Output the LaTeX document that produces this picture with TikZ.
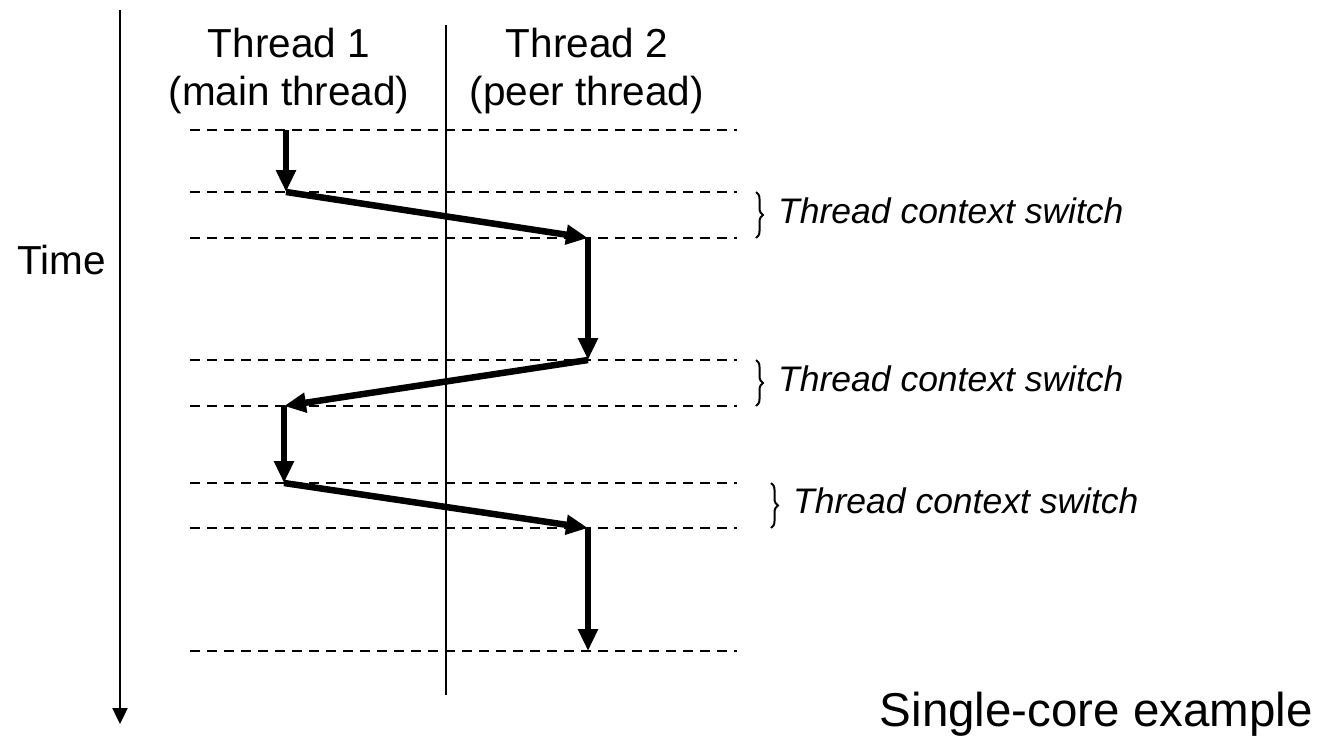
\documentclass[tikz,border=0pt]{standalone}
\usepackage{fontspec}
\setmainfont{Liberation Sans}
\usetikzlibrary{arrows.meta,decorations.pathreplacing}
\begin{document}
\begin{tikzpicture}[x=1pt,y=-1pt,
  lbl/.style={inner sep=0pt,font=\fontsize{40.5}{48}\selectfont},
  cs/.style={inner sep=0pt,anchor=west,font=\fontsize{35.5}{41}\selectfont\itshape},
  guide/.style={line width=2.4pt,dash pattern=on 10pt off 7pt},
  flow/.style={line width=6.5pt,-{Triangle[length=22pt,width=19pt]}},
  brc/.style={line width=2pt,decorate,decoration={brace,amplitude=7pt}}]
\useasboundingbox (0,0) rectangle (1322,737);

% time axis and thread divider
\coordinate (t0) at (120,10);
\coordinate (t1) at (120,724);
\draw[line width=2.4pt,-{Triangle[length=16pt,width=15pt]}] (t0) -- (t1);
\node[lbl] (time) at (62,260) {Time};
\coordinate (d0) at (446,25);
\coordinate (d1) at (446,695);
\draw[line width=2.4pt] (d0) -- (d1);

% column headings
\node[lbl,align=center] (h1) at (289,71) {Thread 1\\(main thread)};
\node[lbl,align=center] (h2) at (587,71) {Thread 2\\(peer thread)};

% dashed time marks
\foreach \y [count=\i] in {130,192,238,360,406,483,528,651}{
  \coordinate (l\i) at (190,\y);
  \coordinate (r\i) at (737,\y);
  \draw[guide] (l\i) -- (r\i);
}

% execution path
\coordinate (a1) at (286,130);
\coordinate (a2) at (286,192);
\coordinate (b2) at (588,238);
\coordinate (b3) at (588,360);
\coordinate (a3) at (284,406);
\coordinate (a4) at (284,483);
\coordinate (b4) at (588,528);
\coordinate (b5) at (588,651);
\draw[flow] (a1) -- (a2);
\draw[flow] (a2) -- (b2);
\draw[flow] (b2) -- (b3);
\draw[flow] (b3) -- (a3);
\draw[flow] (a3) -- (a4);
\draw[flow] (a4) -- (b4);
\draw[flow] (b4) -- (b5);

% context switch annotations
\coordinate (s1a) at (756,192);
\coordinate (s1b) at (756,238);
\coordinate (s2a) at (756,360);
\coordinate (s2b) at (756,406);
\coordinate (s3a) at (771,483);
\coordinate (s3b) at (771,528);
\draw[brc] (s1a) -- (s1b);
\draw[brc] (s2a) -- (s2b);
\draw[brc] (s3a) -- (s3b);
\node[cs] (c1) at (778,211) {Thread context switch};
\node[cs] (c2) at (778,379) {Thread context switch};
\node[cs] (c3) at (793,501) {Thread context switch};

\node[inner sep=0pt,anchor=east,font=\fontsize{47.5}{54}\selectfont] (note) at (1313,714) {Single-core example};
\end{tikzpicture}
\end{document}
